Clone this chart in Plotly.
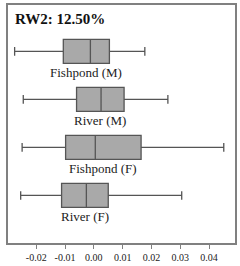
import plotly.graph_objects as go

groups = ["Fishpond (M)", "River (M)", "Fishpond (F)", "River (F)"]
lower = [-0.0275, -0.0245, -0.0249, -0.0254]
q1 = [-0.0106, -0.0060, -0.0098, -0.0112]
median = [-0.0012, 0.0025, 0.0005, -0.0026]
q3 = [0.0054, 0.0105, 0.0164, 0.0050]
upper = [0.0177, 0.0257, 0.0451, 0.0305]
tick_vals = [-0.02, -0.01, 0.00, 0.01, 0.02, 0.03, 0.04]
tick_text = ["-0.02", "-0.01", "0.00", "0.01", "0.02", "0.03", "0.04"]
title_text = "RW2: 12.50%"

fig = go.Figure()
for i, g in enumerate(groups):
    fig.add_trace(go.Box(
        orientation="h", y=[i], q1=[q1[i]], median=[median[i]], q3=[q3[i]],
        lowerfence=[lower[i]], upperfence=[upper[i]],
        width=0.5, whiskerwidth=0.36,
        fillcolor="#a9a9a9", line=dict(color="#555555", width=1.3),
        boxpoints=False, showlegend=False, hoverinfo="skip", name=g,
    ))
    fig.add_annotation(
        x=(q1[i] + q3[i]) / 2, y=i + 0.43, text=g, showarrow=False,
        font=dict(family="Liberation Serif", size=13, color="#222222"),
        xanchor="center", yanchor="middle",
    )

fig.add_annotation(
    xref="paper", yref="paper", x=0.02, y=0.985, text="<b>" + title_text + "</b>",
    showarrow=False, xanchor="left", yanchor="top",
    font=dict(family="Liberation Serif", size=15, color="#111111"),
)

fig.update_layout(
    width=240, height=266, margin=dict(l=8, r=3, t=4, b=21),
    plot_bgcolor="white", paper_bgcolor="white",
    xaxis=dict(range=[-0.0298, 0.049], tickvals=tick_vals, ticktext=tick_text,
               showgrid=False, zeroline=False, showline=True, mirror=True,
               linecolor="#808080", linewidth=2, ticks="outside", ticklen=4,
               tickcolor="#808080", tickwidth=1,
               tickfont=dict(family="Liberation Serif", size=10, color="#222222")),
    yaxis=dict(range=[3.99, -0.965], showticklabels=False, showgrid=False,
               zeroline=False, showline=True, mirror=True,
               linecolor="#808080", linewidth=2, ticks=""),
)

fig.write_html("out.html", config={"displayModeBar": False},
               post_script="document.body.style.margin='0';document.body.style.overflow='hidden';")
